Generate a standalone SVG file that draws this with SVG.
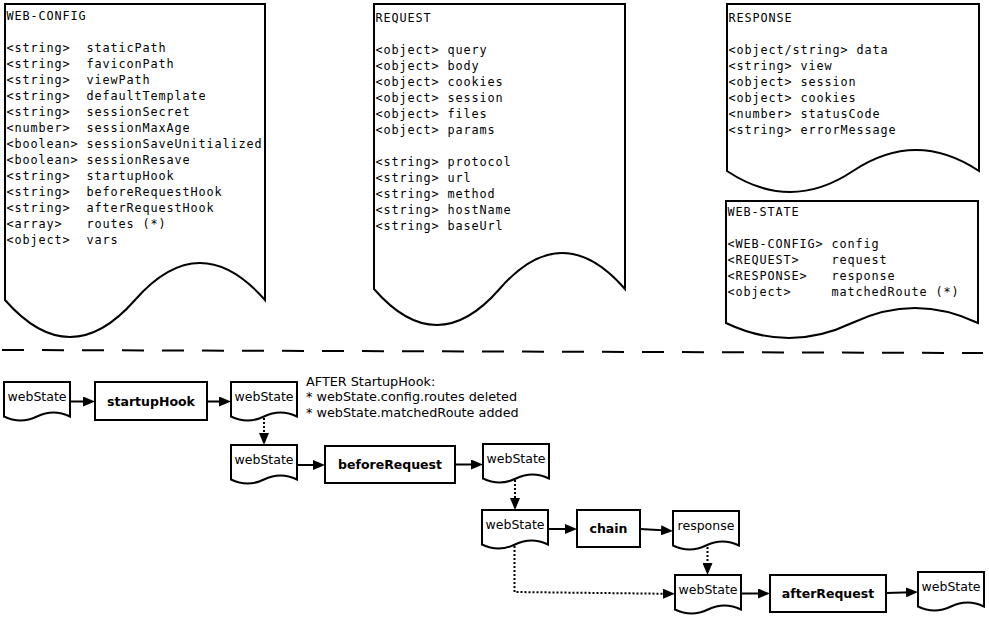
<svg xmlns="http://www.w3.org/2000/svg" width="989" height="618" viewBox="0 0 989 618">
<defs>
<marker id="arr" markerUnits="userSpaceOnUse" markerWidth="12" markerHeight="10" refX="6" refY="5" orient="auto">
<path d="M0,0 L12,5 L0,10 Z" fill="#000"/>
</marker>
<style>
.shape{fill:#fff;stroke:#000;stroke-width:2}
.mono{font-family:"DejaVu Sans Mono","Liberation Mono",monospace;font-size:11.8px;letter-spacing:0.9px;fill:#000;white-space:pre}
.lbl{font-family:"DejaVu Sans","Liberation Sans",sans-serif;font-size:12.5px;fill:#000}
.note{font-family:"DejaVu Sans","Liberation Sans",sans-serif;font-size:12.8px;fill:#000}
.bold{font-family:"DejaVu Sans","Liberation Sans",sans-serif;font-size:12.5px;font-weight:bold;fill:#000}
.conn{fill:none;stroke:#000;stroke-width:2;marker-end:url(#arr)}
.dot{stroke-dasharray:2 2}
</style>
</defs>
<rect width="989" height="618" fill="#fff"/>

<g id="web-config">
<path class="shape" d="M5,4 H265 V300 Q200,226 135,300 T5,300 Z"/>
<text class="mono" xml:space="preserve"><tspan x="6.5" y="20">WEB-CONFIG</tspan><tspan x="6.5" y="52">&lt;string&gt;  staticPath</tspan><tspan x="6.5" y="68">&lt;string&gt;  faviconPath</tspan><tspan x="6.5" y="84">&lt;string&gt;  viewPath</tspan><tspan x="6.5" y="100">&lt;string&gt;  defaultTemplate</tspan><tspan x="6.5" y="116">&lt;string&gt;  sessionSecret</tspan><tspan x="6.5" y="132">&lt;number&gt;  sessionMaxAge</tspan><tspan x="6.5" y="148">&lt;boolean&gt; sessionSaveUnitialized</tspan><tspan x="6.5" y="164">&lt;boolean&gt; sessionResave</tspan><tspan x="6.5" y="180">&lt;string&gt;  startupHook</tspan><tspan x="6.5" y="196">&lt;string&gt;  beforeRequestHook</tspan><tspan x="6.5" y="212">&lt;string&gt;  afterRequestHook</tspan><tspan x="6.5" y="228">&lt;array&gt;   routes (*)</tspan><tspan x="6.5" y="244">&lt;object&gt;  vars</tspan></text>
</g>

<g id="request">
<path class="shape" d="M374,4 H625 V289 Q562.25,217 499.5,289 T374,289 Z"/>
<text class="mono" xml:space="preserve"><tspan x="375.5" y="22">REQUEST</tspan><tspan x="375.5" y="54">&lt;object&gt; query</tspan><tspan x="375.5" y="70">&lt;object&gt; body</tspan><tspan x="375.5" y="86">&lt;object&gt; cookies</tspan><tspan x="375.5" y="102">&lt;object&gt; session</tspan><tspan x="375.5" y="118">&lt;object&gt; files</tspan><tspan x="375.5" y="134">&lt;object&gt; params</tspan><tspan x="375.5" y="166">&lt;string&gt; protocol</tspan><tspan x="375.5" y="182">&lt;string&gt; url</tspan><tspan x="375.5" y="198">&lt;string&gt; method</tspan><tspan x="375.5" y="214">&lt;string&gt; hostName</tspan><tspan x="375.5" y="230">&lt;string&gt; baseUrl</tspan></text>
</g>

<g id="response-doc">
<path class="shape" d="M727,4 H979 V171 Q916,129 853,171 T727,171 Z"/>
<text class="mono" xml:space="preserve"><tspan x="728.5" y="22">RESPONSE</tspan><tspan x="728.5" y="54">&lt;object/string&gt; data</tspan><tspan x="728.5" y="70">&lt;string&gt; view</tspan><tspan x="728.5" y="86">&lt;object&gt; session</tspan><tspan x="728.5" y="102">&lt;object&gt; cookies</tspan><tspan x="728.5" y="118">&lt;number&gt; statusCode</tspan><tspan x="728.5" y="134">&lt;string&gt; errorMessage</tspan></text>
</g>

<g id="web-state">
<path class="shape" d="M726,201 H978 V323 Q915,293 852,323 T726,323 Z"/>
<text class="mono" xml:space="preserve"><tspan x="727.5" y="216">WEB-STATE</tspan><tspan x="727.5" y="248">&lt;WEB-CONFIG&gt; config</tspan><tspan x="727.5" y="264">&lt;REQUEST&gt;    request</tspan><tspan x="727.5" y="280">&lt;RESPONSE&gt;   response</tspan><tspan x="727.5" y="296">&lt;object&gt;     matchedRoute (*)</tspan></text>
</g>

<g id="separator">
<path d="M2,350 L983,353" fill="none" stroke="#000" stroke-width="2" stroke-dasharray="22 18"/>
</g>

<g id="ws1">
<path class="shape" d="M4,382 H70 V416.5 Q53.5,408.5 37,416.5 T4,416.5 Z"/>
<text class="lbl" x="37" y="400.5" text-anchor="middle">webState</text>
</g>
<g id="startupHook">
<rect class="shape" x="95" y="382" width="112" height="38"/>
<text class="bold" x="151" y="405.5" text-anchor="middle">startupHook</text>
</g>
<g id="ws2">
<path class="shape" d="M231,382 H297 V416.5 Q280.5,408.5 264,416.5 T231,416.5 Z"/>
<text class="lbl" x="264" y="400.5" text-anchor="middle">webState</text>
</g>
<g id="note">
<text class="note"><tspan x="306" y="385.5">AFTER StartupHook:</tspan><tspan x="306" y="401">* webState.config.routes deleted</tspan><tspan x="306" y="416.5">* webState.matchedRoute added</tspan></text>
</g>
<g id="ws3">
<path class="shape" d="M231,445 H297 V479.5 Q280.5,471.5 264,479.5 T231,479.5 Z"/>
<text class="lbl" x="264" y="463.5" text-anchor="middle">webState</text>
</g>
<g id="beforeRequest">
<rect class="shape" x="325" y="446" width="130" height="37"/>
<text class="bold" x="390" y="469" text-anchor="middle">beforeRequest</text>
</g>
<g id="ws4">
<path class="shape" d="M483,444 H549 V478.5 Q532.5,470.5 516,478.5 T483,478.5 Z"/>
<text class="lbl" x="516" y="463" text-anchor="middle">webState</text>
</g>
<g id="ws5">
<path class="shape" d="M482,510 H548 V544.5 Q531.5,536.5 515,544.5 T482,544.5 Z"/>
<text class="lbl" x="515" y="528.5" text-anchor="middle">webState</text>
</g>
<g id="chain">
<rect class="shape" x="577" y="510" width="63" height="37"/>
<text class="bold" x="608.5" y="533" text-anchor="middle">chain</text>
</g>
<g id="response">
<path class="shape" d="M673,511 H739 V545.5 Q722.5,537.5 706,545.5 T673,545.5 Z"/>
<text class="lbl" x="706" y="530" text-anchor="middle">response</text>
</g>
<g id="ws6">
<path class="shape" d="M675,575 H741 V609.5 Q724.5,601.5 708,609.5 T675,609.5 Z"/>
<text class="lbl" x="708" y="594" text-anchor="middle">webState</text>
</g>
<g id="afterRequest">
<rect class="shape" x="770" y="575" width="116" height="37"/>
<text class="bold" x="828" y="598" text-anchor="middle">afterRequest</text>
</g>
<g id="ws7">
<path class="shape" d="M918,572 H984 V606.5 Q967.5,598.5 951,606.5 T918,606.5 Z"/>
<text class="lbl" x="951" y="590.5" text-anchor="middle">webState</text>
</g>

<g id="connectors">
<path class="conn" d="M70,401.5 L89,401.5"/>
<path class="conn" d="M207,401.5 L225,401.5"/>
<path class="conn dot" d="M264,418 L264,439"/>
<path class="conn" d="M297,465 L319,465"/>
<path class="conn" d="M455,464.5 L477,464.5"/>
<path class="conn dot" d="M515,480 L515,504"/>
<path class="conn" d="M548,529 L571,529"/>
<path class="conn" d="M640,529 L667,530.6"/>
<path class="conn dot" d="M707.5,547 L707.5,569"/>
<path class="conn dot" d="M514.5,546 L514.5,592 L669,593.8"/>
<path class="conn" d="M741,593.5 L764,593.5"/>
<path class="conn" d="M886,593 L912,592.2"/>
</g>
</svg>
